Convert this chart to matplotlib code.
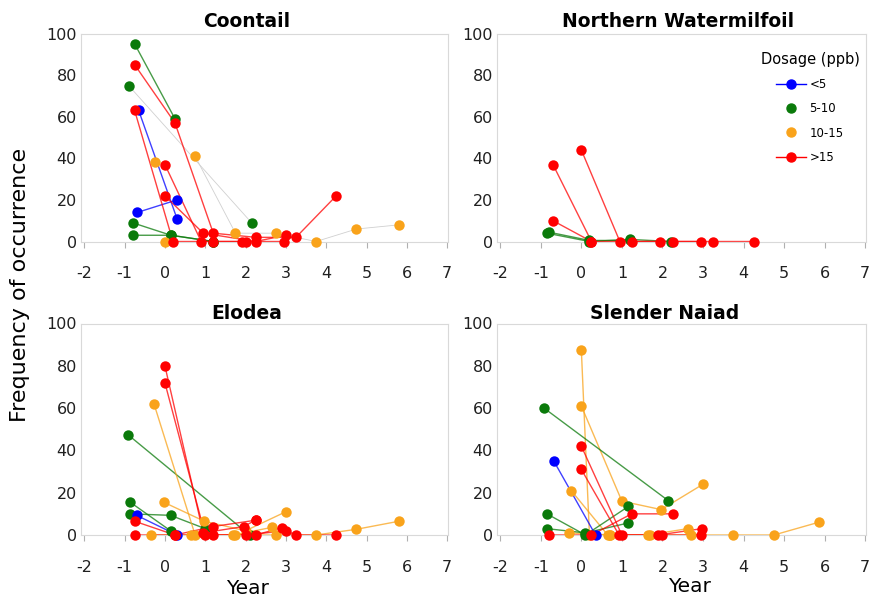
import matplotlib
matplotlib.use("Agg")
import matplotlib.pyplot as plt
from matplotlib.lines import Line2D

plt.rcParams['font.family'] = ['DejaVu Sans']
plt.rcParams['axes.unicode_minus'] = False

# dosage groups (ppb)
groups = ["<5", "5-10", "10-15", ">15"]
colors = {"<5": "#0000ff", "5-10": "#0a7a0a", "10-15": "#f9a31b", ">15": "#ff0000"}

# one entry per lake: (dosage group, years since treatment, frequency of occurrence)
coontail = [
    ("5-10", [-0.75, 0.25], [95, 59]),
    ("5-10", [-0.8, 0.15, 1.2], [9, 3, 0]),
    ("5-10", [-0.8, 0.15, 1.2], [3, 3, 0]),
    ("10-15", [0.0], [0]),
    ("10-15", [-0.25], [38]),
    ("<5", [-0.65, 0.3], [63, 11]),
    ("<5", [-0.68, 0.3], [14, 20]),
    (">15", [-0.75, 0.25, 1.2, 2.25, 3.25, 4.25], [85, 57, 4, 2, 2, 22]),
    (">15", [-0.75, 0.2, 1.2, 2.0, 2.95], [63, 0, 0, 0, 0]),
    (">15", [0.0, 0.9, 1.9], [37, 0, 0]),
    (">15", [0.0, 0.95, 2.25, 3.0], [22, 4, 0, 3]),
]
coontail_faint = [
    ("5-10", [-0.9, 2.15], [75, 9]),
    ("10-15", [0.75, 1.75, 2.75, 3.75, 4.75, 5.8], [41, 4, 4, 0, 6, 8]),
]

watermilfoil = [
    ("5-10", [-0.85, 0.2, 1.2, 2.2], [4, 0, 1, 0]),
    ("5-10", [-0.8, 0.2, 1.2], [4.5, 0.5, 0.5]),
    (">15", [-0.7, 0.25, 1.25, 2.25, 3.25, 4.25], [37, 0, 0, 0, 0, 0]),
    (">15", [0.0, 0.95, 1.95, 2.95], [44, 0, 0, 0]),
    (">15", [-0.7, 0.25], [10, 0]),
]

elodea = [
    ("5-10", [-0.92, 2.1], [47.5, 0]),
    ("5-10", [-0.86, 0.14], [15.5, 2]),
    ("5-10", [-0.86, 0.14, 1.0], [10, 9.3, 3]),
    ("<5", [-0.7, 0.3], [9.3, 0]),
    ("10-15", [-0.27, 0.75, 1.75, 2.75, 3.75, 4.75, 5.8], [62, 0, 0, 0, 0, 2.7, 6.5]),
    ("10-15", [-0.03, 0.98, 2.0, 3.0], [15.5, 6.5, 2, 11]),
    ("10-15", [-0.35, 0.65, 1.7, 2.65], [0, 0, 0, 3.6]),
    (">15", [0.0, 0.95, 1.95, 2.25], [80, 1, 4, 7]),
    (">15", [0.0, 1.0, 2.0, 3.0, 3.25, 4.25], [72, 0, 0, 2, 0, 0]),
    (">15", [-0.75, 0.25, 1.2, 2.25], [6.5, 0, 4, 7]),
    (">15", [-0.75, 0.25, 1.2, 2.25, 2.9], [0, 0, 0, 0, 3.5]),
]

naiad = [
    ("10-15", [0.0, 0.2, 0.7, 1.7, 2.7, 3.75, 4.75, 5.85], [87.5, 0, 0, 0, 0, 0, 0, 6]),
    ("10-15", [0.0, 1.0, 1.97, 3.0], [61, 16, 12, 24]),
    ("10-15", [-0.25, 0.65, 1.65, 2.62], [21, 0, 0, 3]),
    ("10-15", [-0.3, 0.7], [1, 0]),
    ("5-10", [-0.92, 2.14], [60, 16.3]),
    ("5-10", [-0.85, 0.1, 1.16], [10, 0, 13.5]),
    ("5-10", [-0.85, 0.1, 1.16], [3, 1, 5.7]),
    ("<5", [-0.68, 0.35], [35, 0]),
    (">15", [0.0, 1.0, 2.0, 2.95], [42, 0, 0, 0]),
    (">15", [0.0, 0.93, 1.9, 2.97], [31, 0, 0, 3]),
    (">15", [-0.8, 0.25, 1.24, 2.25], [0, 0, 10, 10]),
]

xticks = list(range(-2, 8))
yticks = [0, 20, 40, 60, 80, 100]

fig = plt.figure(figsize=(8.73, 6.06), dpi=100)

# axes placed in pixels, converted to figure fractions
W, H = 873.0, 606.0
panels = [
    ("Coontail", coontail, coontail_faint, (81, 241.5, 367, 208), 0.452, 5),
    ("Northern Watermilfoil", watermilfoil, [], (497, 241.5, 369, 208), 0.49, 5),
    ("Elodea", elodea, [], (81, 535, 367, 211.5), 0.452, 3),
    ("Slender Naiad", naiad, [], (497, 535, 369, 211.5), 0.455, 3),
]

axes = []
for title, lakes, faint, (px, pb, pw, ph), tx, tpad in panels:
    ax = fig.add_axes([px / W, 1 - pb / H, pw / W, ph / H])
    axes.append(ax)
    for grp, xs, ys in faint:
        ax.plot(xs, ys, '-', color="#d0d0d0", lw=0.6, zorder=1)
        ax.plot(xs, ys, 'o', color=colors[grp], ms=7.5, mew=0, clip_on=False, zorder=3)
    for grp, xs, ys in lakes:
        ax.plot(xs, ys, '-', color=colors[grp], lw=1.0, alpha=0.75, zorder=2)
        ax.plot(xs, ys, 'o', color=colors[grp], ms=7.5, mew=0, clip_on=False, zorder=3)
    ax.set_xlim(-2.08, 7.02)
    ax.set_ylim(0, 100)
    ax.set_xticks(xticks)
    ax.set_yticks(yticks)
    ax.tick_params(axis='x', length=4, color="#b0b0b0", pad=14, labelsize=11.5,
                   labelcolor="#202020")
    ax.tick_params(axis='y', length=0, pad=3, labelsize=11.5, labelcolor="#202020")
    for s in ax.spines.values():
        s.set_color("#d9d9d9")
        s.set_linewidth(0.8)
    ax.set_title(title, fontsize=13.5, fontweight='bold', x=tx, pad=tpad)

handles = [
    Line2D([], [], color=colors["<5"], marker='o', ms=6.5, lw=1.0),
    Line2D([], [], color=colors["5-10"], marker='o', ms=6.5, lw=0),
    Line2D([], [], color=colors["10-15"], marker='o', ms=6.5, lw=0),
    Line2D([], [], color=colors[">15"], marker='o', ms=6.5, lw=1.0),
]
leg = fig.legend(handles, groups, title="Dosage (ppb)", loc='upper center',
                 bbox_to_anchor=(810 / W, 1 - 46 / H), frameon=False, borderpad=0,
                 fontsize=8.5, title_fontsize=10.5, handlelength=2.5,
                 handletextpad=0.3, labelspacing=0.95)

fig.text(247 / W, 1 - 588 / H, "Year", ha='center', va='center', fontsize=14.5)
fig.text(689 / W, 1 - 586 / H, "Year", ha='center', va='center', fontsize=14.5)
fig.text(20 / W, 1 - 285 / H, "Frequency of occurrence", rotation=90,
         ha='center', va='center', fontsize=16)

fig.savefig("out.png", dpi=100)
